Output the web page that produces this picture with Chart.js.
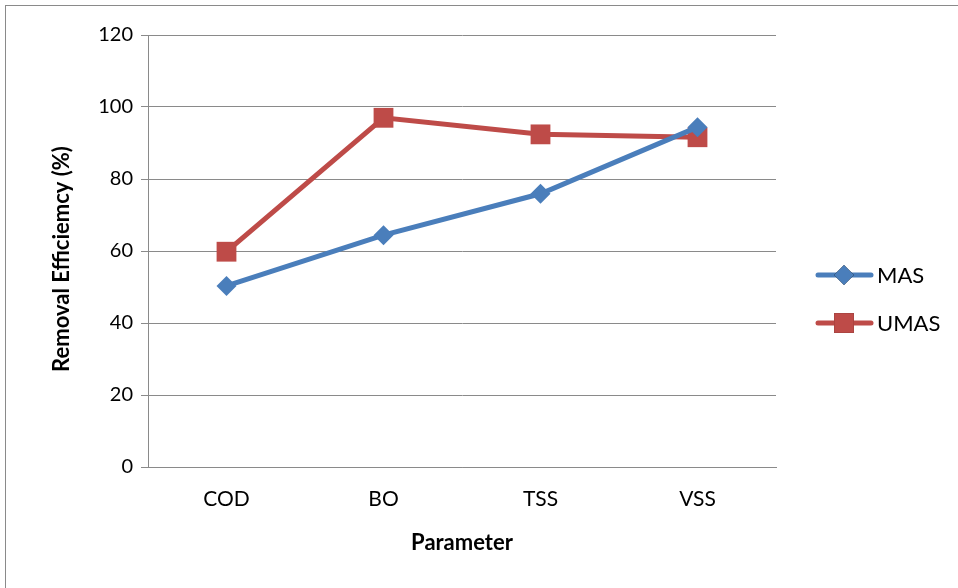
<!DOCTYPE html>
<html>
<head>
<meta charset="utf-8">
<script src="https://cdn.jsdelivr.net/npm/chart.js@4"></script>
<style>
  html, body { margin: 0; padding: 0; background: #fff; }
  #wrap { width: 958px; height: 588px; }
</style>
</head>
<body>
<div id="wrap"><canvas id="canvas" width="958" height="588"></canvas></div>
<script>
var parameters = ['COD', 'BO', 'TSS', 'VSS'];
var mas = [50.3, 64.4, 75.9, 94.4];
var umas = [59.8, 97.0, 92.4, 91.6];
var yTicks = [0, 20, 40, 60, 80, 100, 120];

var fontFamily = 'Lato, "Liberation Sans", sans-serif';

// gray frame round the whole chart (only top and left edges are on the page)
var framePlugin = {
    id: 'frame',
    beforeDraw: function(chart){
        var ctx = chart.ctx;
        ctx.save();
        ctx.strokeStyle = '#8a8a8a';
        ctx.lineWidth = 1;
        ctx.strokeRect(5.5, 5.5, 1200, 1200);
        ctx.restore();
    }
};

// legend drawn as line + marker like the spreadsheet one
var legendPlugin = {
    id: 'sideLegend',
    afterDraw: function(chart){
        var ctx = chart.ctx;
        var rows = [275, 323];
        chart.data.datasets.forEach(function(ds, i){
            var y = rows[i];
            ctx.save();
            ctx.strokeStyle = ds.borderColor;
            ctx.lineWidth = ds.borderWidth;
            ctx.lineCap = 'round';
            ctx.beginPath();
            ctx.moveTo(818, y);
            ctx.lineTo(871, y);
            ctx.stroke();
            Chart.helpers.drawPoint(ctx, {
                pointStyle: ds.pointStyle,
                radius: ds.pointRadius,
                borderWidth: 0
            }, 844, y);
            ctx.fillStyle = ds.pointBackgroundColor;
            ctx.fill();
            ctx.fillStyle = '#000';
            ctx.font = '22px ' + fontFamily;
            ctx.textBaseline = 'middle';
            ctx.textAlign = 'left';
            ctx.fillText(ds.label, 877, y + 1);
            ctx.restore();
        });
    }
};

var ctx = document.getElementById('canvas').getContext('2d');
var myChart = new Chart(ctx, {
    type: 'line',
    data: {
        labels: parameters,
        datasets: [{
            label: 'MAS',
            data: mas,
            borderColor: '#4A7EBB',
            backgroundColor: '#4A7EBB',
            pointBackgroundColor: '#4A7EBB',
            pointBorderWidth: 0,
            pointStyle: 'rectRot',
            pointRadius: 10,
            borderWidth: 5,
            tension: 0
        },
        {
            label: 'UMAS',
            data: umas,
            borderColor: '#BE4B48',
            backgroundColor: '#BE4B48',
            pointBackgroundColor: '#BE4B48',
            pointBorderWidth: 0,
            pointStyle: 'rect',
            pointRadius: 14,
            borderWidth: 5,
            tension: 0
        }]
    },
    options: {
        responsive: false,
        animation: false,
        layout: {
            padding: { left: 0, top: 35, right: 182, bottom: 0 }
        },
        plugins: {
            legend: { display: false },
            tooltip: { enabled: false }
        },
        scales: {
            x: {
                offset: true,
                grid: { display: false },
                border: { display: true, color: '#8a8a8a', width: 1 },
                ticks: {
                    color: '#000',
                    font: { family: fontFamily, size: 21 },
                    padding: 12
                },
                title: {
                    display: true,
                    text: 'Parameter',
                    color: '#000',
                    font: { family: fontFamily, size: 22, weight: 'bold' },
                    padding: { top: 10, bottom: 32 }
                },
                afterFit: function(scale){ scale.height = 121; }
            },
            y: {
                min: 0,
                max: 120,
                afterBuildTicks: function(scale){
                    scale.ticks = yTicks.map(function(v){ return { value: v }; });
                },
                grid: {
                    color: '#8a8a8a',
                    lineWidth: 1,
                    tickLength: 7
                },
                border: { display: true, color: '#8a8a8a', width: 1 },
                ticks: {
                    color: '#000',
                    font: { family: fontFamily, size: 20 },
                    padding: 8
                },
                title: {
                    display: true,
                    text: 'Removal Efficiemcy (%)   ',
                    color: '#000',
                    font: { family: fontFamily, size: 22, weight: 'bold' },
                    padding: { top: 49, bottom: 10 }
                },
                afterFit: function(scale){ scale.width = 148; }
            }
        }
    },
    plugins: [framePlugin, legendPlugin]
});
</script>
</body>
</html>
